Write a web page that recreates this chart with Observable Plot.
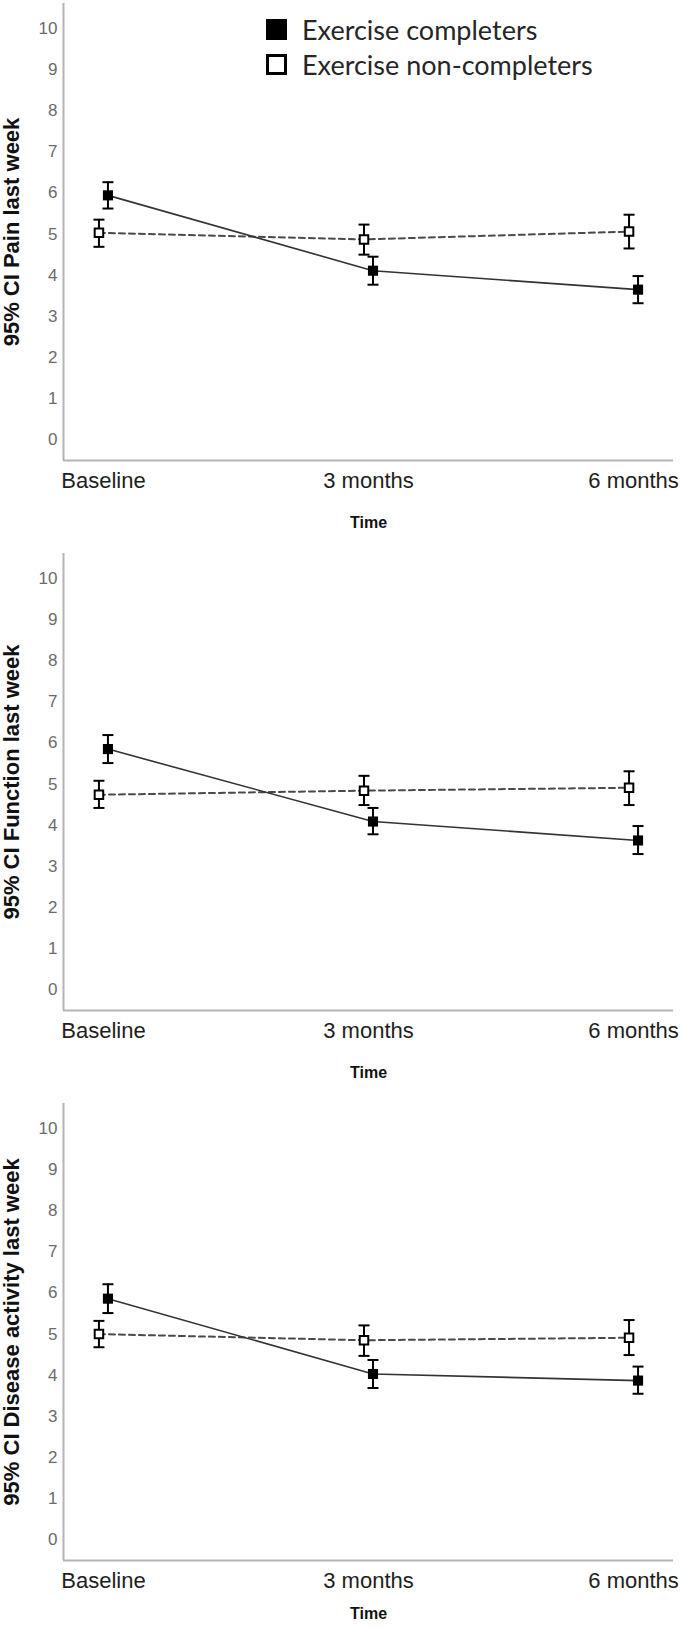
<!DOCTYPE html>
<html>
<head>
<meta charset="utf-8">
<script src="https://cdn.jsdelivr.net/npm/d3@7"></script>
<script src="https://cdn.jsdelivr.net/npm/@observablehq/plot@0.6"></script>
<style>
  body { margin: 0; background: #fff; }
  #chart { position: relative; width: 685px; height: 1627px; overflow: hidden; background: #fff; }
  .panel { position: absolute; left: 0; }
  .legend { position: absolute; left: 0; top: 0; font-family: Lato, "Open Sans", sans-serif; font-size: 27px; color: #262626; }
  .legend .item { position: absolute; height: 34px; display: flex; align-items: center; white-space: nowrap; }
  .legend .sw { width: 21px; height: 21px; box-sizing: border-box; border: 3px solid #000; margin-right: 15px; }
</style>
</head>
<body>
<div id="chart"></div>
<script>
// ---- data ----
const timepoints = ["Baseline", "3 months", "6 months"];
const seriesNames = ["Exercise completers", "Exercise non-completers"];
const yTicks = [0, 1, 2, 3, 4, 5, 6, 7, 8, 9, 10];
const xAxisTitle = "Time";
const panelTitles = ["95% CI Pain last week", "95% CI Function last week", "95% CI Disease activity last week"];

// Pain
const painCompleters     = [5.94, 4.11, 3.65];
const painCompletersLo   = [5.62, 3.77, 3.32];
const painCompletersHi   = [6.26, 4.45, 3.98];
const painNon            = [5.03, 4.87, 5.06];
const painNonLo          = [4.69, 4.50, 4.65];
const painNonHi          = [5.35, 5.23, 5.47];

// Function
const funcCompleters     = [5.85, 4.09, 3.63];
const funcCompletersLo   = [5.51, 3.78, 3.30];
const funcCompletersHi   = [6.19, 4.42, 3.98];
const funcNon            = [4.74, 4.84, 4.91];
const funcNonLo          = [4.42, 4.49, 4.49];
const funcNonHi          = [5.08, 5.20, 5.31];

// Disease activity
const disCompleters      = [5.86, 4.03, 3.87];
const disCompletersLo    = [5.51, 3.69, 3.55];
const disCompletersHi    = [6.21, 4.37, 4.21];
const disNon             = [5.00, 4.85, 4.91];
const disNonLo           = [4.68, 4.47, 4.49];
const disNonHi           = [5.32, 5.21, 5.34];

// ---- chart ----
const xPad = 0.1507;
const xDomain = [-xPad, timepoints.length - 1 + xPad];
const yDomain = [-0.5, 10.6];

const capSymbol = {
  draw(ctx, size) {
    const w = Math.sqrt(size / Math.PI);
    ctx.moveTo(-w, 0);
    ctx.lineTo(w, 0);
  }
};

function rows(mean, lo, hi) {
  return timepoints.map((t, i) => ({i, t, mean: mean[i], lo: lo[i], hi: hi[i]}));
}

function makePanel(title, c, cLo, cHi, n, nLo, nHi, height, timeDy) {
  const rc = rows(c, cLo, cHi);
  const rn = rows(n, nLo, nHi);
  const axisStroke = "#b4b4b4";
  const offC = 4.5, offN = -4.5;
  return Plot.plot({
    width: 685,
    height,
    marginLeft: 63,
    marginRight: 12,
    marginTop: 3,
    marginBottom: height - 460,
    x: {domain: xDomain, axis: null},
    y: {domain: yDomain, axis: null},
    style: {background: "white", fontFamily: "'Liberation Sans', Arial, sans-serif", overflow: "visible"},
    marks: [
      Plot.ruleY([yDomain[0]], {stroke: axisStroke, strokeWidth: 2}),
      Plot.ruleX([xDomain[0]], {stroke: axisStroke, strokeWidth: 2}),
      Plot.axisY({ticks: yTicks, tickSize: 0, tickPadding: 6, fontSize: 17, fill: "#6b6b6b", label: null}),
      Plot.axisX({ticks: timepoints.map((_, i) => i), tickFormat: i => timepoints[i], tickSize: 0, tickPadding: 12, fontSize: 22, fill: "#1e1e1e", label: null}),
      Plot.text([title], {frameAnchor: "left", textAnchor: "middle", lineAnchor: "middle", dx: -52, rotate: -90, fontWeight: "bold", fontSize: 22, fill: "#111"}),
      Plot.text([xAxisTitle], {frameAnchor: "bottom", textAnchor: "middle", lineAnchor: "middle", dy: timeDy, fontWeight: "bold", fontSize: 16, fill: "#111"}),
      // lines
      Plot.line(rn, {x: "i", y: "mean", dx: offN, stroke: "#4a4a4a", strokeWidth: 2, strokeDasharray: "6,4"}),
      Plot.line(rc, {x: "i", y: "mean", dx: offC, stroke: "#333", strokeWidth: 1.6}),
      // error bars
      Plot.ruleX(rn, {x: "i", y1: "lo", y2: "hi", dx: offN, stroke: "#000", strokeWidth: 2}),
      Plot.ruleX(rc, {x: "i", y1: "lo", y2: "hi", dx: offC, stroke: "#000", strokeWidth: 2}),
      Plot.dot(rn, {x: "i", y: "lo", dx: offN, symbol: capSymbol, r: 5.5, fill: "none", stroke: "#000", strokeWidth: 2}),
      Plot.dot(rn, {x: "i", y: "hi", dx: offN, symbol: capSymbol, r: 5.5, fill: "none", stroke: "#000", strokeWidth: 2}),
      Plot.dot(rc, {x: "i", y: "lo", dx: offC, symbol: capSymbol, r: 5.5, fill: "none", stroke: "#000", strokeWidth: 2}),
      Plot.dot(rc, {x: "i", y: "hi", dx: offC, symbol: capSymbol, r: 5.5, fill: "none", stroke: "#000", strokeWidth: 2}),
      // markers
      Plot.dot(rn, {x: "i", y: "mean", dx: offN, symbol: "square", r: 4.8, fill: "white", stroke: "#000", strokeWidth: 2}),
      Plot.dot(rc, {x: "i", y: "mean", dx: offC, symbol: "square", r: 5.7, fill: "#000", stroke: "none"})
    ]
  });
}

const chart = document.getElementById("chart");
const specs = [
  [panelTitles[0], painCompleters, painCompletersLo, painCompletersHi, painNon, painNonLo, painNonHi, 550, 62, 0],
  [panelTitles[1], funcCompleters, funcCompletersLo, funcCompletersHi, funcNon, funcNonLo, funcNonHi, 550, 62, 550],
  [panelTitles[2], disCompleters, disCompletersLo, disCompletersHi, disNon, disNonLo, disNonHi, 527, 53, 1100]
];
for (const s of specs) {
  const div = document.createElement("div");
  div.className = "panel";
  div.style.top = s[9] + "px";
  div.appendChild(makePanel(...s.slice(0, 9)));
  chart.appendChild(div);
}

// legend (HTML overlay on the first panel)
const legend = document.createElement("div");
legend.className = "legend";
const legendTops = [12, 47];
seriesNames.forEach((name, k) => {
  const item = document.createElement("div");
  item.className = "item";
  item.style.left = "266px";
  item.style.top = legendTops[k] + "px";
  const sw = document.createElement("div");
  sw.className = "sw";
  sw.style.background = k === 0 ? "#000" : "#fff";
  const label = document.createElement("span");
  label.textContent = name;
  item.appendChild(sw);
  item.appendChild(label);
  legend.appendChild(item);
});
chart.appendChild(legend);
</script>
</body>
</html>
